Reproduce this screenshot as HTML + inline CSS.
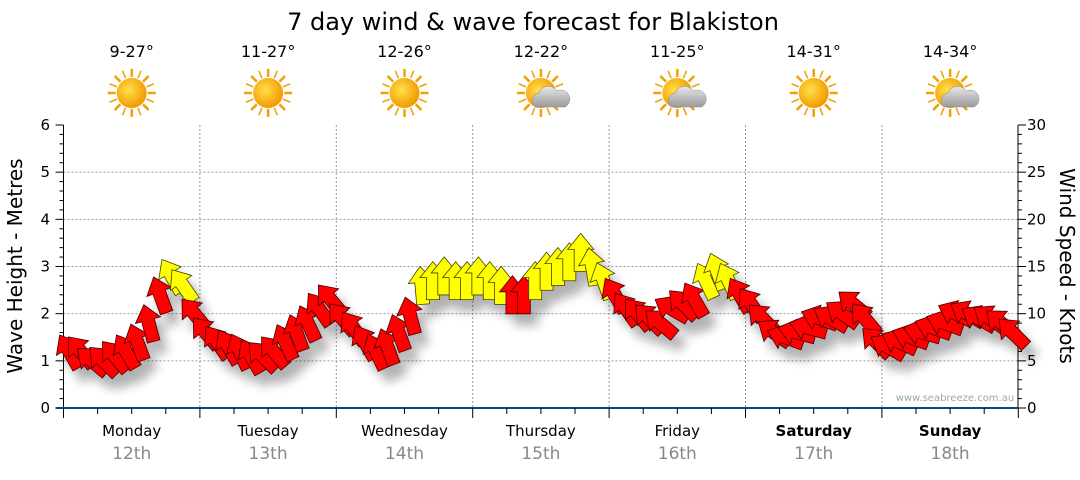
<!DOCTYPE html>
<html><head><meta charset="utf-8"><style>
body{margin:0;background:#fff;width:1080px;height:475px;overflow:hidden;font-family:"Liberation Sans",sans-serif}
svg text{font-family:"DejaVu Sans","Liberation Sans",sans-serif}
</style></head><body>
<svg id="c" width="1080" height="475">
<defs>
<filter id="sh" x="-50%" y="-50%" width="200%" height="200%"><feGaussianBlur stdDeviation="5"/></filter>
<radialGradient id="sun" cx="40%" cy="40%" r="60%"><stop offset="0" stop-color="#ffe04a"/><stop offset="1" stop-color="#f29a00"/></radialGradient>
<linearGradient id="cloud" x1="0" y1="0" x2="0" y2="1"><stop offset="0" stop-color="#e8e8e8"/><stop offset="1" stop-color="#9a9a9a"/></linearGradient>
</defs>
<text x="533" y="30" font-size="24" text-anchor="middle" fill="#000">7 day wind &amp; wave forecast for Blakiston</text>
<g id="grid"></g><g id="axes"></g><g id="shadows" filter="url(#sh)" opacity="0.3"></g><g id="marks"></g><g id="topg"></g>
<text x="955" y="401" font-size="10" fill="#9aa" text-anchor="middle">www.seabreeze.com.au</text>
<text transform="translate(22,266) rotate(-90)" font-size="20" text-anchor="middle">Wave Height - Metres</text>
<text transform="translate(1060,266) rotate(90)" font-size="20" text-anchor="middle">Wind Speed - Knots</text>
</svg>
<script>
const days=["Monday","Tuesday","Wednesday","Thursday","Friday","Saturday","Sunday"];
const dates=["12th","13th","14th","15th","16th","17th","18th"];
const temps=["9-27°","11-27°","12-26°","12-22°","11-25°","14-31°","14-34°"];
const cloudy=[0,0,0,1,1,0,1];
const waveTicks=[0,1,2,3,4,5,6];
const windTicks=[0,5,10,15,20,25,30];
const wind=[6,6,5,5,5.5,6,7,9,12,14,13,10,
8,7,6.5,6,5.5,5.5,6,7,8,9,10.5,11.5,
9.5,8.5,7,6,6.5,8,9.8,13,13.5,14,13.5,13.5,
14,13.5,13,12,12,13.5,14.5,15,15.5,16.5,15,13.5,
12,10.5,10,9.5,9,10.5,11,11.5,13.5,14.5,13.5,12,
11,9.5,8,7.5,8,8.5,9.5,9.5,10,11,9.5,7,
6.5,7,7.5,8,8.5,9,10,10,9.5,9.5,9,8];
const dir=[-30,-40,-50,-45,-40,-30,-20,-15,-20,-30,-35,-40,
-40,-35,-30,-25,-30,-45,-40,-25,-20,-25,-35,-40,
-40,-35,-30,-25,-20,-20,-15,-5,0,0,0,0,
0,0,0,0,0,0,0,0,0,0,-10,-20,
-30,-35,-40,-45,-50,-60,-45,-30,-25,-20,-25,-30,
-35,-45,-55,-70,-75,-75,-70,-60,-55,-50,-40,-45,
-60,-65,-70,-75,-70,-70,-65,-60,-60,-55,-50,-45];
const X0=63.5,DW=136.4,Y0=408,YT=125;
const xs=i=>X0+(i+0.5)*DW/12;
const yWind=v=>Y0-(v/30)*(Y0-YT);
const NS="http://www.w3.org/2000/svg";
function mk(t,a,p){const e=document.createElementNS(NS,t);for(const k in a)e.setAttribute(k,a[k]);p.appendChild(e);return e;}
const grid=document.getElementById('grid'),axes=document.getElementById('axes'),marks=document.getElementById('marks'),shadows=document.getElementById('shadows'),topG=document.getElementById('topg');
windTicks.forEach((t,i)=>{const y=yWind(t);
 if(t>0&&t<30){const g=mk('line',{x1:X0,x2:1018,y1:y,y2:y,stroke:'#999','stroke-dasharray':'2,2'},grid);}
 const l=mk('text',{x:50,y:y+5,'font-size':15,'text-anchor':'end'},axes);l.textContent=waveTicks[i];
 const r=mk('text',{x:1027,y:y+5,'font-size':15},axes);r.textContent=t;
});
for(let k=0;k<=30;k++){const y=yWind(k);const w=k%5==0?8:4;mk('line',{x1:X0-w,x2:X0,y1:y,y2:y,stroke:'#000'},axes);mk('line',{x1:1018,x2:1018+w,y1:y,y2:y,stroke:'#000'},axes);}
mk('line',{x1:X0,x2:X0,y1:YT,y2:Y0,stroke:'#000'},axes);
mk('line',{x1:1018,x2:1018,y1:YT,y2:Y0,stroke:'#000'},axes);
mk('line',{x1:X0-8,x2:1018,y1:Y0,y2:Y0,stroke:'#0a4a78','stroke-width':2},axes);
for(let k=0;k<=28;k++){const x=X0+k*DW/4;mk('line',{x1:x,x2:x,y1:Y0,y2:Y0+(k%4==0?10:6),stroke:'#000'},axes);}
days.forEach((d,i)=>{const cx=X0+(i+0.5)*DW;
 if(i>0){const g=mk('line',{x1:X0+i*DW,x2:X0+i*DW,y1:YT,y2:Y0,stroke:'#999','stroke-dasharray':'2,2'},grid);}
 const t=mk('text',{x:cx,y:436,'font-size':15,'text-anchor':'middle','font-weight':i>=5?'bold':'normal'},axes);t.textContent=d;
 const dt=mk('text',{x:cx,y:459,'font-size':17,'text-anchor':'middle',fill:'#888'},axes);dt.textContent=dates[i];
 const tp=mk('text',{x:cx,y:57,'font-size':16,'text-anchor':'middle'},topG);tp.textContent=temps[i];
 const ic=mk('g',{transform:`translate(${cx},93)`},topG);
 for(let r=0;r<16;r++){const a=r*Math.PI/8;mk('line',{x1:Math.cos(a)*16,y1:Math.sin(a)*16,x2:Math.cos(a)*24,y2:Math.sin(a)*24,stroke:'#f0a000','stroke-width':r%2?1.5:2.5},ic);}
 mk('circle',{r:15,fill:'url(#sun)'},ic);
 if(cloudy[i]){mk('path',{d:'M-6,14 a8,8 0 0 1 4,-14 a10,10 0 0 1 18,-2 a8,8 0 0 1 8,16 z',fill:'url(#cloud)',stroke:'#888','stroke-width':0.5},ic);}
});
const AR='M0,-19 L13,-3 L6.5,-3 L6.5,19 L-6.5,19 L-6.5,-3 L-13,-3 Z';
wind.forEach((v,i)=>{const x=xs(i),y=yWind(v);
 mk('path',{d:AR,fill:'#000',transform:`translate(${x+8},${y+12}) rotate(${dir[i]})`},shadows);
 const a=mk('path',{d:AR,fill:v>=12.5?'#ffff00':'#ff0000',stroke:v>=12.5?'#444400':'#440000','stroke-width':0.8,'stroke-linejoin':'miter',transform:`translate(${x},${y}) rotate(${dir[i]})`},marks);
 
 
});
</script>
</body></html>
